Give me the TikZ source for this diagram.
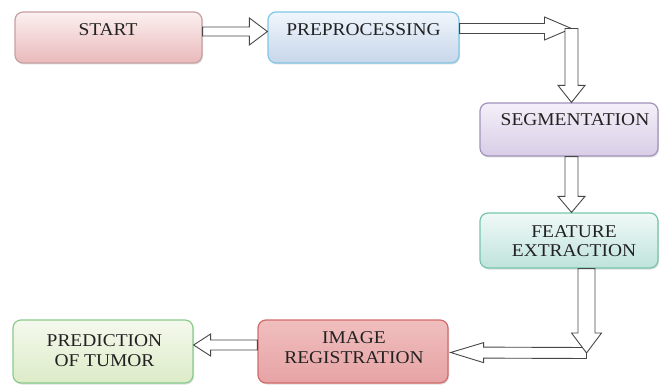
\documentclass[tikz,border=0pt]{standalone}
\usepackage{fontspec}
\newfontfamily\boxfont[FakeStretch=1.08]{Liberation Serif}
\usetikzlibrary{calc,shadows}
\definecolor{arrowc}{HTML}{474747}
\definecolor{txtc}{HTML}{222222}
\newcommand\hollowarrow[5]{%
  \coordinate (ha-b) at ($(#2)!#5!(#1)$);
  \path[harrow] ($(#1)!#3!90:(#2)$) -- ($(ha-b)!#3!90:(#2)$) -- ($(ha-b)!#4!90:(#2)$) -- (#2)
    -- ($(ha-b)!#4!-90:(#2)$) -- ($(ha-b)!#3!-90:(#2)$) -- ($(#1)!#3!-90:(#2)$) -- cycle;}
\begin{document}
\begin{tikzpicture}[x=1pt,y=-1pt,
  box/.style={rectangle, rounded corners=8pt, line width=1.2pt, inner sep=0pt,
    drop shadow={shadow xshift=1pt, shadow yshift=-1.5pt, opacity=0.25}},
  lbl/.style={anchor=north, inner sep=0pt, align=center, text=txtc,
    font=\boxfont\fontsize{18}{19.5}\selectfont},
  harrow/.style={draw=arrowc, fill=white, line width=0.9pt, line join=miter}]
\useasboundingbox (0,0) rectangle (659,385);
\fill[white] (0,0) rectangle (659,385);
% boxes
\node[box, draw={rgb,255:red,201;green,160;blue,162}, top color={rgb,255:red,252;green,240;blue,240}, bottom color={rgb,255:red,233;green,185;blue,187},
  minimum width=187pt, minimum height=51pt] (start) at (108.5,37.5) {};
\node[box, draw={rgb,255:red,128;green,198;blue,230}, top color={rgb,255:red,240;green,246;blue,252}, bottom color={rgb,255:red,199;green,214;blue,234},
  minimum width=191pt, minimum height=51pt] (prep) at (363.5,37.5) {};
\node[box, draw={rgb,255:red,161;green,147;blue,187}, top color={rgb,255:red,244;green,240;blue,249}, bottom color={rgb,255:red,216;green,205;blue,230},
  minimum width=178pt, minimum height=53pt] (seg) at (569,129.5) {};
\node[box, draw={rgb,255:red,118;green,197;blue,171}, top color={rgb,255:red,240;green,249;blue,247}, bottom color={rgb,255:red,191;green,227;blue,220},
  minimum width=178pt, minimum height=55pt] (feat) at (569,240.5) {};
\node[box, draw={rgb,255:red,210;green,106;blue,107}, top color={rgb,255:red,240;green,190;blue,190}, middle color={rgb,255:red,250;green,225;blue,225}, bottom color={rgb,255:red,231;green,163;blue,165},
  minimum width=190pt, minimum height=63pt] (imgreg) at (353,351.5) {};
\node[box, draw={rgb,255:red,138;green,203;blue,140}, top color={rgb,255:red,245;green,249;blue,238}, bottom color={rgb,255:red,220;green,235;blue,199},
  minimum width=180pt, minimum height=63pt] (pred) at (103,351.5) {};
% labels
\node[lbl] (startT) at (108,23.3) {START};
\node[lbl] (prepT) at (363.5,23.3) {PREPROCESSING};
\node[lbl] (segT) at (575,113.5) {SEGMENTATION};
\node[lbl] (featT) at (574,225) {FEATURE\\EXTRACTION};
\node[lbl] (imgregT) at (354,331.5) {IMAGE\\REGISTRATION};
\node[lbl] (predT) at (104.5,334.5) {PREDICTION\\OF TUMOR};
% connector coordinates
\coordinate (c1) at (571.5,28.5);
\coordinate (c2) at (586.5,353);
% arrows
\hollowarrow{$(start.east)+(0,-6)$}{$(prep.west)+(0,-6)$}{4.5pt}{13.5pt}{18pt}
\hollowarrow{$(prep.east)+(0,-9)$}{c1}{5pt}{11.5pt}{27pt}
\hollowarrow{c1}{$(seg.north)+(2.5,0)$}{6.5pt}{13.5pt}{17pt}
\hollowarrow{$(seg.south)+(2.5,0)$}{$(feat.north)+(2.5,0)$}{6.5pt}{13.5pt}{16pt}
\hollowarrow{$(c2)+(0,0)$}{$(imgreg.east)+(2,1)$}{5.5pt}{10pt}{33pt}
\hollowarrow{$(feat.south)+(17.5,0)$}{c2}{8.5pt}{15pt}{20pt}
\hollowarrow{$(imgreg.west)+(0,-6.5)$}{$(pred.east)+(0,-6.5)$}{5pt}{11pt}{17pt}
\end{tikzpicture}
\end{document}
